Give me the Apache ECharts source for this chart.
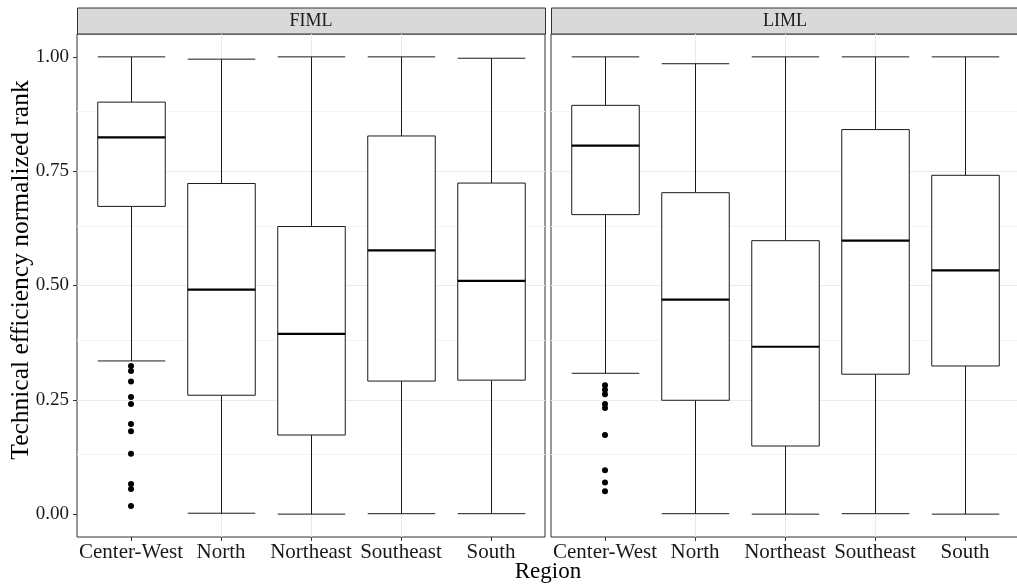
<!DOCTYPE html>
<html>
<head>
<meta charset="utf-8">
<script src="https://cdn.jsdelivr.net/npm/echarts@6/dist/echarts.min.js"></script>
<style>
  html, body { margin: 0; padding: 0; background: #fff; }
  #chart { width: 1017px; height: 585px; }
</style>
</head>
<body>
<div id="chart"></div>
<script>
// categories
var regions = ['Center-West', 'North', 'Northeast', 'Southeast', 'South'];
var panels = ['FIML', 'LIML'];
// box stats per region: [lower whisker, q1, median, q3, upper whisker]
var fimlBoxes = [
    [0.335, 0.673, 0.824, 0.901, 1.000],
    [0.002, 0.260, 0.491, 0.723, 0.995],
    [0.000, 0.173, 0.394, 0.629, 1.000],
    [0.001, 0.291, 0.577, 0.827, 1.000],
    [0.001, 0.293, 0.510, 0.724, 0.997]
];
var limlBoxes = [
    [0.308, 0.655, 0.806, 0.894, 1.000],
    [0.001, 0.249, 0.469, 0.703, 0.985],
    [0.000, 0.149, 0.366, 0.598, 1.000],
    [0.001, 0.306, 0.598, 0.841, 1.000],
    [0.000, 0.324, 0.533, 0.741, 1.000]
];
// outliers (all in Center-West)
var fimlOutliers = [0.324, 0.313, 0.290, 0.256, 0.241, 0.197, 0.181, 0.132, 0.066, 0.055, 0.018];
var limlOutliers = [0.282, 0.272, 0.262, 0.241, 0.232, 0.173, 0.096, 0.069, 0.050];
// y ticks
var yTicks = [0, 0.25, 0.5, 0.75, 1];
var yMinor = [0.125, 0.375, 0.625, 0.875];
var xTicks = [0, 1, 2, 3, 4];

var FONT = 'Liberation Serif';
var myChart = echarts.init(document.getElementById('chart'));

function boxData(boxes) {
    return boxes.map(function (b, i) { return [i].concat(b); });
}

function renderBox(params, api) {
    var x = api.value(0);
    var lo = api.coord([x, api.value(1)]);
    var q1 = api.coord([x, api.value(2)]);
    var med = api.coord([x, api.value(3)]);
    var q3 = api.coord([x, api.value(4)]);
    var hi = api.coord([x, api.value(5)]);
    var half = api.size([0.75, 0])[0] / 2;
    var cx = Math.round(lo[0]) + 0.5;
    var ln = { stroke: '#1a1a1a', lineWidth: 1 };
    return {
        type: 'group',
        children: [
            { type: 'line', shape: { x1: cx, y1: hi[1], x2: cx, y2: q3[1] }, style: ln },
            { type: 'line', shape: { x1: cx, y1: q1[1], x2: cx, y2: lo[1] }, style: ln },
            { type: 'line', shape: { x1: cx - half, y1: hi[1], x2: cx + half, y2: hi[1] }, style: ln },
            { type: 'line', shape: { x1: cx - half, y1: lo[1], x2: cx + half, y2: lo[1] }, style: ln },
            { type: 'rect', shape: { x: cx - half, y: q3[1], width: half * 2, height: q1[1] - q3[1] },
              style: { fill: '#fff', stroke: '#1a1a1a', lineWidth: 1 } },
            { type: 'line', shape: { x1: cx - half, y1: med[1], x2: cx + half, y2: med[1] },
              style: { stroke: '#000', lineWidth: 2.2 } }
        ]
    };
}

function xAxisFor(idx) {
    return {
        type: 'value', gridIndex: idx, min: -0.6, max: 4.6,
        minInterval: 1, maxInterval: 1,
        axisLine: { show: false, onZero: false },
        axisTick: { show: true, length: 4, customValues: xTicks, lineStyle: { color: '#333' } },
        axisLabel: {
            margin: 5, color: '#1a1a1a', fontFamily: FONT, fontSize: 21,
            customValues: xTicks,
            formatter: function (v) {
                var r = Math.round(v);
                return Math.abs(v - r) < 1e-6 && r >= 0 && r < regions.length ? regions[r] : '';
            }
        },
        splitLine: { show: true, showMinLine: false, showMaxLine: false, lineStyle: { color: '#ebebeb', width: 1 } }
    };
}

function yAxisFor(idx) {
    return {
        type: 'value', gridIndex: idx, min: -0.05, max: 1.05,
        minInterval: 0.25, maxInterval: 0.25,
        axisLine: { show: false, onZero: false },
        axisTick: { show: idx === 0, length: 4, customValues: yTicks, lineStyle: { color: '#333' } },
        axisLabel: {
            show: idx === 0, margin: 8, color: '#1a1a1a', fontFamily: FONT, fontSize: 19,
            customValues: yTicks,
            formatter: function (v) {
                for (var i = 0; i < yTicks.length; i++) {
                    if (Math.abs(v - yTicks[i]) < 1e-6) return yTicks[i].toFixed(2);
                }
                return '';
            }
        },
        splitLine: { show: true, showMinLine: false, showMaxLine: false, lineStyle: { color: '#ebebeb', width: 1 } }
    };
}

var gridLeft = [77, 551];
var series = [];
[fimlBoxes, limlBoxes].forEach(function (boxes, i) {
    var outs = i === 0 ? fimlOutliers : limlOutliers;
    series.push({
        type: 'scatter', xAxisIndex: i, yAxisIndex: i, z: 4,
        symbol: 'circle', symbolSize: 6,
        itemStyle: { color: '#000', opacity: 1 },
        silent: true,
        data: outs.map(function (v) { return [0, v]; }),
        markLine: {
            z: 1, silent: true, symbol: 'none', label: { show: false },
            lineStyle: { color: '#f3f3f3', width: 1, type: 'solid' },
            data: yMinor.map(function (v) { return { yAxis: v }; })
        }
    });
    series.push({
        type: 'custom', xAxisIndex: i, yAxisIndex: i, z: 3,
        renderItem: renderBox,
        encode: { x: 0, y: [1, 2, 3, 4, 5] },
        data: boxData(boxes)
    });
});

var graphics = [];
panels.forEach(function (p, i) {
    graphics.push({
        type: 'rect', left: gridLeft[i], top: 7.5,
        shape: { x: 0, y: 0, width: 468, height: 26 },
        style: { fill: '#d9d9d9', stroke: '#333', lineWidth: 1 }
    });
    graphics.push({
        type: 'text', x: gridLeft[i] + 234, y: 21,
        style: { text: p, fontFamily: FONT, fontSize: 18, fill: '#1a1a1a', textAlign: 'center', textVerticalAlign: 'middle' }
    });
});
graphics.push({
    type: 'text', x: 548, y: 572,
    style: { text: 'Region', fontFamily: FONT, fontSize: 23, fill: '#000', textAlign: 'center', textVerticalAlign: 'middle' }
});
graphics.push({
    type: 'text', x: 21, y: 270, rotation: Math.PI / 2,
    style: { text: 'Technical efficiency normalized rank', fontFamily: FONT, fontSize: 25.5, fill: '#000', textAlign: 'center', textVerticalAlign: 'middle' }
});

var option = {
    animation: false,
    backgroundColor: '#fff',
    grid: [0, 1].map(function (i) {
        return {
            left: gridLeft[i], top: 34, width: 468, height: 503,
            outerBoundsMode: 'none', containLabel: false,
            show: true, backgroundColor: '#fff', borderColor: '#333', borderWidth: 1
        };
    }),
    xAxis: [xAxisFor(0), xAxisFor(1)],
    yAxis: [yAxisFor(0), yAxisFor(1)],
    graphic: graphics,
    series: series
};
myChart.setOption(option);
</script>
</body>
</html>
